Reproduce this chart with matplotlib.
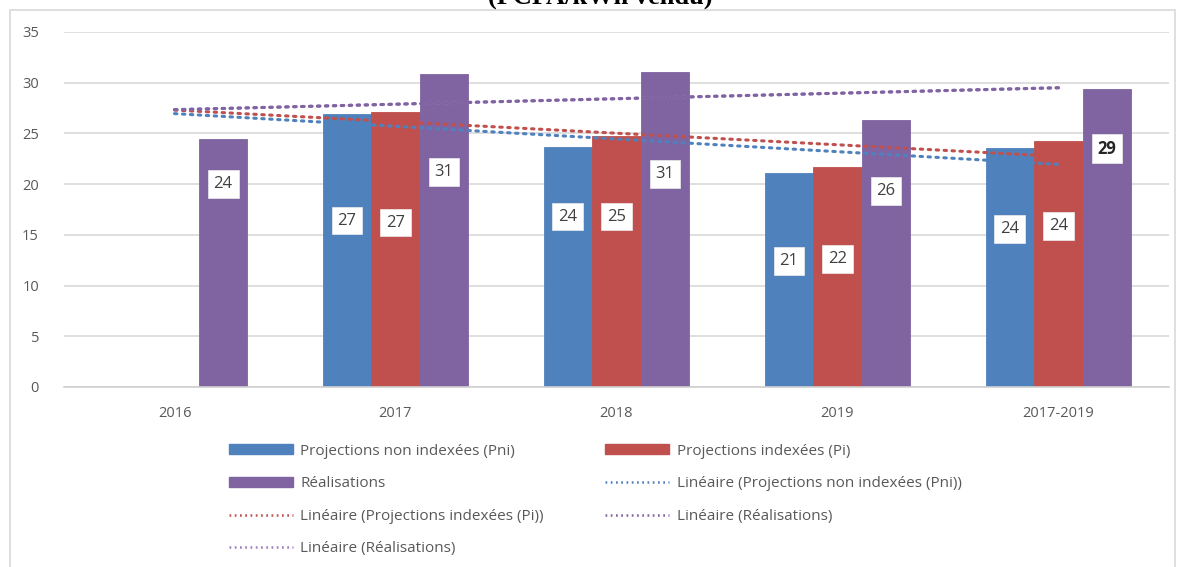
import numpy as np
import matplotlib
matplotlib.use("Agg")
import matplotlib.pyplot as plt
from matplotlib.patches import Patch, Rectangle
from matplotlib.lines import Line2D

# data
categories = ["2016", "2017", "2018", "2019", "2017-2019"]
pni = [np.nan, 26.9, 23.7, 21.1, 23.6]      # projections non indexees
pi = [np.nan, 27.1, 24.7, 21.7, 24.3]       # projections indexees
real = [24.4, 30.9, 31.1, 26.3, 29.4]       # realisations

# height at which each value label sits (inside the bars)
label_y_pni = [None, 16.4, 16.8, 12.4, 15.6]
label_y_pi = [None, 16.2, 16.8, 12.6, 15.9]
label_y_real = [20.0, 21.2, 21.0, 19.3, 23.5]

BLUE = "#4f81bd"
RED = "#c0504d"
PURPLE = "#8064a2"
PURPLE2 = "#9b7fc4"
GREY = "#595959"

plt.rcParams["font.family"] = ["Open Sans", "DejaVu Sans"]

fig = plt.figure(figsize=(11.81, 5.67), dpi=100)
ax = fig.add_axes([0.0542, 0.3175, 0.9356, 0.6261])

x = np.arange(len(categories))
w = 0.22

def draw_bars(vals, offset, color):
    v = np.array(vals, dtype=float)
    m = ~np.isnan(v)
    ax.bar(x[m] + offset, v[m], width=w, color=color, edgecolor=color,
           linewidth=0.6, zorder=2)

draw_bars(pni, -w, BLUE)
draw_bars(pi, 0, RED)
draw_bars(real, w, PURPLE)

# linear trendlines over category index
def trend(vals):
    v = np.array(vals, dtype=float)
    m = ~np.isnan(v)
    k, b = np.polyfit(x[m] + 1, v[m], 1)
    xs = np.array([x[0], x[-1]])
    return xs, k * (xs + 1) + b

dots = (0, (0.8, 1.8))
for vals, col in [(pni, BLUE), (pi, RED), (real, PURPLE2), (real, PURPLE)]:
    xs, ys = trend(vals)
    ax.plot(xs, ys, color=col, linestyle=dots, linewidth=2.2,
            dash_capstyle="round", zorder=3)

# value labels
def labels(vals, ys, offset, bold=None):
    for i, (v, y) in enumerate(zip(vals, ys)):
        if y is None or np.isnan(v):
            continue
        isbold = bold is not None and i == bold
        ax.text(x[i] + offset, y, f"{v:.0f}", ha="center", va="center",
                fontsize=12, color="#262626" if isbold else "#404040",
                fontweight="bold" if isbold else "normal", zorder=5,
                bbox=dict(boxstyle="square,pad=0.35", fc="white", ec="#ececec",
                          lw=0.5))

labels(pni, label_y_pni, -w)
labels(pi, label_y_pi, 0)
labels(real, label_y_real, w, bold=4)

ax.set_xlim(-0.5, len(categories) - 0.5)
ax.set_ylim(0, 35)
ax.set_yticks(np.arange(0, 36, 5))
ax.set_xticks(x)
ax.set_xticklabels(categories)
ax.tick_params(axis="both", length=0, colors=GREY, labelsize=10.5)
ax.tick_params(axis="x", pad=14)
ax.tick_params(axis="y", pad=18)
ax.yaxis.grid(True, color="#d9d9d9", linewidth=1.2, zorder=0)
ax.set_axisbelow(True)
for s in ["top", "right", "left"]:
    ax.spines[s].set_visible(False)
ax.spines["bottom"].set_color("#d0d0d0")
ax.spines["bottom"].set_linewidth(1.2)

# legend, filled column by column
h_pni = Patch(facecolor=BLUE, edgecolor=BLUE)
h_pi = Patch(facecolor=RED, edgecolor=RED)
h_real = Patch(facecolor=PURPLE, edgecolor=PURPLE)
def lh(c):
    return Line2D([], [], color=c, linestyle=(0, (0.7, 1.4)), linewidth=1.8)
handles = [h_pni, h_real, lh(RED), lh(PURPLE2), h_pi, lh(BLUE), lh(PURPLE)]
names = ["Projections non indexées (Pni)", "Réalisations",
         "Linéaire (Projections indexées (Pi))", "Linéaire (Réalisations)",
         "Projections indexées (Pi)", "Linéaire (Projections non indexées (Pni))",
         "Linéaire (Réalisations)"]
fig.legend(handles, names, ncol=2, loc="upper left",
           bbox_to_anchor=(0.182, 0.242), frameon=False, fontsize=11,
           labelcolor=GREY, handlelength=4.2, handletextpad=0.5,
           columnspacing=4.0, labelspacing=1.15, handleheight=0.6)

# chart frame
fig.patches.append(Rectangle((10 / 1181, -0.01), 1165 / 1181, 1 - 10 / 567 + 0.01,
                             transform=fig.transFigure, fill=False,
                             edgecolor="#d9d9d9", linewidth=1.2))

# title line above the chart, mostly outside the frame
fig.text(0.508, 1 - 3.5 / 567, "(FCFA/kWh vendu)", ha="center", va="baseline",
         fontsize=19, fontweight="bold", family="Liberation Serif")

fig.savefig("out.png", dpi=100)
